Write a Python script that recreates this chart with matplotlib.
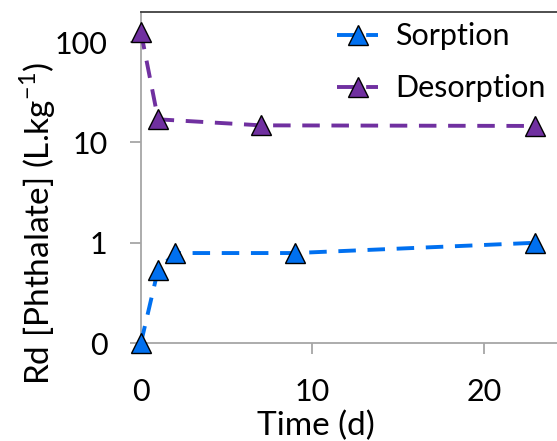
import matplotlib
matplotlib.use('Agg')
from matplotlib import pyplot as plt
from matplotlib.ticker import FixedLocator, FuncFormatter

plt.rcParams['font.family'] = ['Lato', 'DejaVu Sans']

# time in days
sorption_days = [0, 1, 2, 9, 23]
sorption_rd = [0.1, 0.54, 0.79, 0.79, 1.0]
desorption_days = [0, 1, 7, 23]
desorption_rd = [126, 17, 14.8, 14.6]

y_ticks = [0.1, 1, 10, 100]
y_tick_labels = ['0', '1', '10', '100']
x_ticks = [0, 10, 20]

fig = plt.figure(figsize=(5.57, 4.41), dpi=100)
ax = fig.add_axes([0.253, 0.222, 0.747, 0.751])

dash = (0, (4.5, 3))
ax.plot(sorption_days, sorption_rd, color='#0070F0', linestyle=dash, linewidth=2.8,
        marker='^', markersize=14, markerfacecolor='#0070F0', markeredgecolor='black',
        markeredgewidth=1.0, label='Sorption', clip_on=False, zorder=3)
ax.plot(desorption_days, desorption_rd, color='#7030A0', linestyle=dash, linewidth=2.8,
        marker='^', markersize=14, markerfacecolor='#7030A0', markeredgecolor='black',
        markeredgewidth=1.0, label='Desorption', clip_on=False, zorder=3)

ax.set_yscale('log')
ax.set_ylim(0.1, 200)
ax.set_xlim(0, 24.26)
ax.yaxis.set_major_locator(FixedLocator(y_ticks))
ax.yaxis.set_major_formatter(FuncFormatter(lambda v, p: y_tick_labels[y_ticks.index(v)] if v in y_ticks else ''))
ax.yaxis.set_minor_locator(FixedLocator([]))
ax.set_xticks(x_ticks)

for side in ['left', 'bottom']:
    ax.spines[side].set_color('#A6A6A6')
    ax.spines[side].set_linewidth(1.3)
ax.spines['top'].set_color('#404040')
ax.spines['top'].set_linewidth(1.3)
ax.spines['right'].set_visible(False)
ax.tick_params(axis='both', which='major', labelsize=22, length=8, width=1.3, color='#A6A6A6')
ax.tick_params(axis='y', pad=16)
ax.tick_params(axis='x', pad=17)

ax.set_xlabel('Time (d)', fontsize=24)
ax.xaxis.set_label_coords(0.42, -0.205)
ax.set_ylabel('Rd [Phthalate] (L.kg$^{\\mathregular{-1}}$)', fontsize=24)
ax.yaxis.set_label_coords(-0.20, 0.36)

ax.legend(loc='upper left', bbox_to_anchor=(0.442, 1.005), fontsize=22, frameon=False,
          handlelength=1.34, handletextpad=0.55, labelspacing=0.78, borderaxespad=0.0)

fig.savefig('out.png', dpi=100)
